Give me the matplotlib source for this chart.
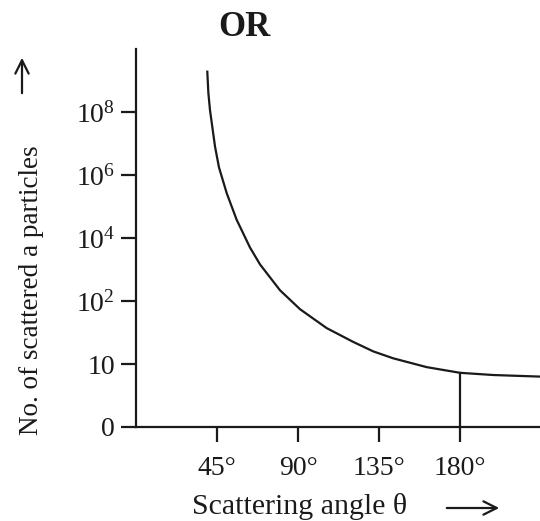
import numpy as np
import matplotlib
matplotlib.use('Agg')
import matplotlib.pyplot as plt
from matplotlib.patches import FancyArrowPatch

plt.rcParams.update({
    'font.family': ['Liberation Serif', 'DejaVu Serif'],
    'mathtext.fontset': 'custom',
    'mathtext.rm': 'Liberation Serif',
    'mathtext.it': 'Liberation Serif:italic',
    'figure.facecolor': 'white',
})
INK = '#1a1a1a'

# curve: angle (deg) vs. position on the stepped y scale
angle = [39.6, 40.2, 41.1, 43.9, 46.1, 50.4, 55.9, 63.3, 68.9, 80.0, 91.1,
         105.9, 120.7, 131.8, 142.9, 161.5, 180.0, 198.5, 224.4]
level = [5.64, 5.30, 5.03, 4.45, 4.12, 3.71, 3.29, 2.85, 2.58, 2.17, 1.87,
         1.57, 1.35, 1.20, 1.09, 0.95, 0.86, 0.825, 0.80]

y_ticks = [0, 1, 2, 3, 4, 5]
y_labels = ['0', '10', '$10^{2}$', '$10^{4}$', '$10^{6}$', '$10^{8}$']
x_ticks = [45, 90, 135, 180]
x_labels = ['45°', '90°', '135°', '180°']
marked_angle = 180

fig = plt.figure(figsize=(5.4, 5.21), dpi=100)
ax = fig.add_axes([136 / 540, 94 / 521, 404 / 540, 378 / 521])

ax.plot(angle, level, color=INK, lw=1.6, solid_joinstyle='round')
ax.plot([marked_angle, marked_angle], [0, np.interp(marked_angle, angle, level)],
        color=INK, lw=1.6)

ax.set_xlim(0, 224.4)
ax.set_ylim(0, 6)
for s in ['top', 'right']:
    ax.spines[s].set_visible(False)
for s in ['left', 'bottom']:
    ax.spines[s].set_linewidth(1.6)
    ax.spines[s].set_color(INK)

ax.set_yticks(y_ticks)
ax.set_yticklabels(y_labels)
ax.set_xticks(x_ticks)
ax.set_xticklabels(x_labels)
ax.tick_params(axis='y', direction='out', length=11, width=1.6, color=INK,
               labelsize=20, pad=4, labelcolor=INK)
ax.tick_params(axis='x', direction='out', length=11, width=1.6, color=INK,
               labelsize=20, pad=10, labelcolor=INK)

fig.text(244 / 540, 1 - 28 / 521, 'OR', ha='center', va='center',
         fontsize=25, fontweight='bold', color=INK)
fig.text(32 / 540, 1 - 290 / 521, 'No. of scattered a particles', rotation=90,
         ha='center', va='center', fontsize=19.5, color=INK)
fig.text(300 / 540, 1 - 507 / 521, 'Scattering angle θ', ha='center',
         va='center', fontsize=21.5, color=INK)

arrow = dict(arrowstyle='->', color=INK, lw=1.6, mutation_scale=24)
fig.add_artist(FancyArrowPatch(
    (22 / 540, 1 - 96 / 521), (22 / 540, 1 - 55 / 521),
    transform=fig.transFigure, **arrow))
fig.add_artist(FancyArrowPatch(
    (444 / 540, 1 - 508 / 521), (502 / 540, 1 - 508 / 521),
    transform=fig.transFigure, **arrow))

fig.savefig('out.png', dpi=100)
